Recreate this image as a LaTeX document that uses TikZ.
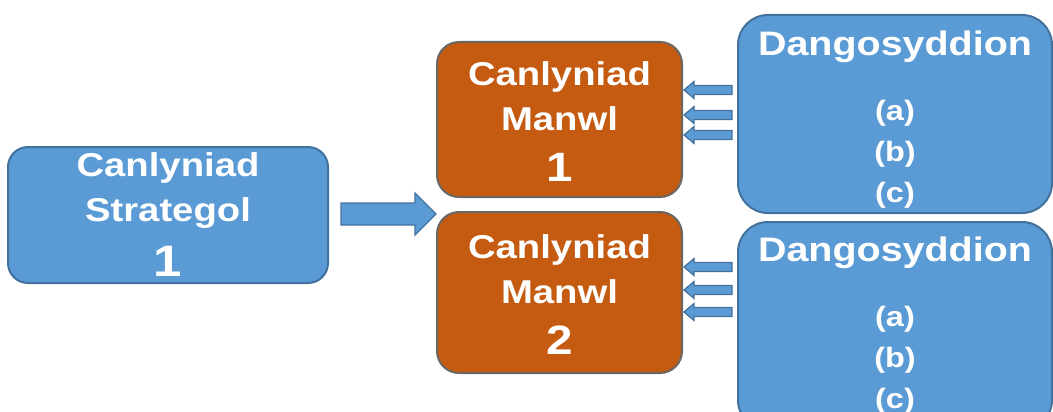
\documentclass[tikz,border=0pt]{standalone}
\usepackage{fontspec}
\setmainfont{Liberation Sans}[FakeStretch=1.16]
\usepackage{tikz}
\usetikzlibrary{
  calc
}
\definecolor{boxblue}{HTML}{5B9BD5}
\definecolor{boxedge}{HTML}{41719C}
\definecolor{manwlfill}{HTML}{C55A11}
\definecolor{manwledge}{HTML}{6B6661}
\tikzset{
  box base/.style={draw=boxedge,fill=boxblue,line width=2pt,inner sep=0pt},
  strat box/.style={box base,rounded corners=20pt},
  manwl box/.style={box base,draw=manwledge,fill=manwlfill,rounded corners=22pt},
  dango box/.style={box base,rounded corners=30pt},
  box text/.style={text=white,align=center,anchor=base,inner sep=0pt,
    font=\bfseries\fontsize{33}{45}\selectfont},
  block arrow/.style={draw=boxedge,fill=boxblue,line width=1.2pt},
}
\newcommand\blockarrow[5]{%
  \path[block arrow] let \p1=(#1), \p2=(#2), \n1={ifthenelse(\x2>\x1,1,-1)*#5} in
    (\x1,\y1+#3) -- (\x2-\n1,\y1+#3) -- (\x2-\n1,\y1+#4) -- (\x2,\y1)
    -- (\x2-\n1,\y1-#4) -- (\x2-\n1,\y1-#3) -- (\x1,\y1-#3) -- cycle;
}

\begin{document}
\begin{tikzpicture}[x=1pt,y=-1pt]
\useasboundingbox (0,0) rectangle (1053,412);
\clip (0,0) rectangle (1053,412);

\node[strat box,minimum width=320pt,minimum height=136pt] (strat) at (168,215) {};
\node[box text] (strat-t) at ($(strat.north)+(0,130)$)
  {Canlyniad\\Strategol\\[10pt]{\fontsize{44}{44}\selectfont 1}};

\node[manwl box,minimum width=245pt,minimum height=155pt] (manwl-a) at (559.5,119.5) {};
\node[box text] (manwl-a-t) at ($(manwl-a.north)+(0,140)$)
  {Canlyniad\\Manwl\\[6pt]{\fontsize{41}{45}\selectfont 1}};
\node[manwl box,minimum width=245pt,minimum height=161pt] (manwl-b) at (559.5,292.5) {};
\node[box text] (manwl-b-t) at ($(manwl-b.north)+(0,143)$)
  {Canlyniad\\Manwl\\[6pt]{\fontsize{41}{45}\selectfont 2}};

\node[dango box,minimum width=314pt,minimum height=198pt] (dango-a) at (895,114) {};
\node[box text,font=\bfseries\fontsize{28}{41}\selectfont] (dango-a-t) at ($(dango-a.north)+(0,188)$)
  {{\fontsize{34}{41}\selectfont Dangosyddion}\\[24pt](a)\\(b)\\(c)};
\node[dango box,minimum width=314pt,minimum height=208pt] (dango-b) at (895,326) {};
\node[box text,font=\bfseries\fontsize{28}{41}\selectfont] (dango-b-t) at ($(dango-b.north)+(0,187)$)
  {{\fontsize{34}{41}\selectfont Dangosyddion}\\[24pt](a)\\(b)\\(c)};

% arrows
\coordinate (strat-out) at ($(strat.east)+(12,-1)$);
\coordinate (manwl-in) at (manwl-a.west |- strat-out);
\blockarrow{strat-out}{manwl-in}{11pt}{21pt}{21pt}
\foreach \y in {90,115,135} {
  \coordinate (a-from) at ($(dango-a.west |- 0,\y)+(-5,0)$);
  \coordinate (a-to) at ($(manwl-a.east |- 0,\y)+(1,0)$);
  \blockarrow{a-from}{a-to}{4.5pt}{8.5pt}{10pt}
}
\foreach \y in {267,290,312} {
  \coordinate (b-from) at ($(dango-b.west |- 0,\y)+(-5,0)$);
  \coordinate (b-to) at ($(manwl-b.east |- 0,\y)+(1,0)$);
  \blockarrow{b-from}{b-to}{4.5pt}{8.5pt}{10pt}
}
\end{tikzpicture}
\end{document}
